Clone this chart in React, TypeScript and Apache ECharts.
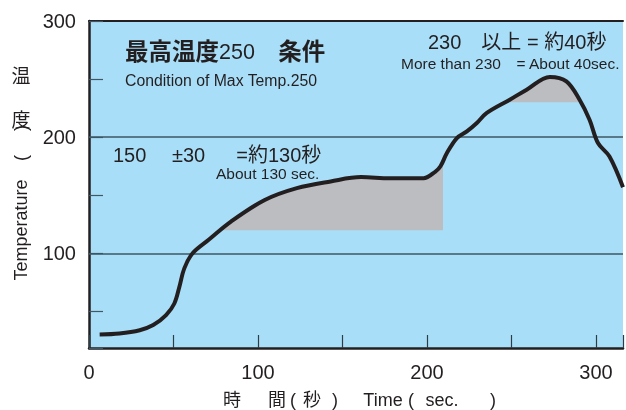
import React, { useEffect, useRef } from "react";
import * as echarts from "echarts";

// Temperature profile (time in sec, temperature in °C)
const curve: [number, number][] = [
  [6.3, 30.3], [18, 31.2], [30, 34], [38, 38.4], [45.6, 47], [50.5, 57],
  [53.5, 71.4], [56.4, 87.2], [61.3, 100.2], [71, 112], [84, 127.4],
  [104, 146], [123, 156.2], [143, 162], [161, 165.7], [178, 164.8],
  [198, 164.8], [205, 170.5], [208, 175], [211.8, 186.4], [217.7, 199.3],
  [223.6, 205], [229.5, 212.2], [235.4, 220.9], [249, 232.3], [259, 240.9],
  [272.7, 251.9], [282.5, 248.1], [290.3, 232.3], [296.2, 215.1],
  [301.2, 195], [308, 183.4], [316, 157],
];

// Zone 1: 150 ± 30 (above 120) from ~79 s to ~209 s
const zone1Base = 120;
const zone1Range = [79, 209.2];
// Zone 2: above 230 for about 40 s
const zone2Base = 230;
const zone2Range = [249, 289.6];

const gridValues = [100, 200];
const xTickLabels = [0, 100, 200, 300];
const yTickLabels = [100, 200, 300];

const FONT = "'Liberation Sans', Arial, 'Noto Sans CJK JP', sans-serif";
const INK = "#231f20";
const BLUE = "#a9def8";
const GRAY = "#bcbdc1";
const CLEAR = "rgba(0,0,0,0)";

export default function App() {
  const ref = useRef<HTMLDivElement>(null);
  useEffect(() => {
    if (!ref.current) return;
    const chart = echarts.init(ref.current, undefined, { renderer: "svg" });
    const txt = (text: string, x: number, y: number, size: number, extra: any = {}) => ({
      type: "text",
      x,
      y,
      rotation: extra.rotation || 0,
      z: 100,
      style: {
        text,
        x: 0,
        y: 0,
        fontSize: size,
        fontFamily: FONT,
        fontWeight: extra.bold ? "bold" : "normal",
        fill: INK,
        align: extra.align || "left",
        verticalAlign: "middle",
        rich: extra.rich,
      },
    });
    chart.setOption({
      animation: false,
      grid: {
        left: 89,
        right: 0,
        top: 21,
        bottom: 62,
        show: true,
        backgroundColor: BLUE,
        borderWidth: 0,
      },
      xAxis: [
        {
          type: "value",
          min: 0,
          max: 316,
          interval: 50,
          axisLine: { show: true, onZero: false, lineStyle: { color: INK, width: 2.5 } },
          axisTick: { show: true, inside: true, length: 13, lineStyle: { color: "#2e3d45", width: 1.2 } },
          splitLine: { show: false },
          axisLabel: {
            fontSize: 20,
            fontFamily: FONT,
            color: INK,
            margin: 14,
            formatter: (v: number) => (xTickLabels.includes(v) ? String(v) : ""),
          },
        },
        {
          type: "value",
          position: "top",
          min: 0,
          max: 316,
          axisLine: { show: true, onZero: false, lineStyle: { color: INK, width: 2 } },
          axisTick: { show: false },
          axisLabel: { show: false },
          splitLine: { show: false },
        },
      ],
      yAxis: {
        type: "value",
        min: 18.7,
        max: 300,
        axisLine: { show: true, onZero: false, lineStyle: { color: INK, width: 2.5 } },
        axisTick: { show: true, inside: true, length: 14, lineStyle: { color: "#3f5864", width: 1.2 } },
        splitLine: { show: false },
        axisLabel: {
          fontSize: 20,
          fontFamily: FONT,
          color: INK,
          margin: 13,
          formatter: (v: number) => (yTickLabels.includes(v) ? String(v) : ""),
        },
      },
      visualMap: [
        {
          type: "piecewise",
          show: false,
          dimension: 0,
          seriesIndex: 1,
          pieces: [
            { lt: zone1Range[0], color: CLEAR },
            { gte: zone1Range[0], lte: zone1Range[1], color: GRAY },
            { gt: zone1Range[1], color: CLEAR },
          ],
        },
        {
          type: "piecewise",
          show: false,
          dimension: 0,
          seriesIndex: 2,
          pieces: [
            { lt: zone2Range[0], color: CLEAR },
            { gte: zone2Range[0], lte: zone2Range[1], color: GRAY },
            { gt: zone2Range[1], color: CLEAR },
          ],
        },
      ],
      series: [
        {
          type: "line",
          data: curve,
          smooth: 0.35,
          showSymbol: false,
          z: 10,
          lineStyle: { color: INK, width: 4 },
          itemStyle: { color: INK },
        },
        {
          type: "line",
          data: curve,
          smooth: 0.35,
          showSymbol: false,
          z: 3,
          lineStyle: { width: 0, opacity: 0 },
          areaStyle: { origin: zone1Base, opacity: 1 },
        },
        {
          type: "line",
          data: curve,
          smooth: 0.35,
          showSymbol: false,
          z: 3,
          lineStyle: { width: 0, opacity: 0 },
          areaStyle: { origin: zone2Base, opacity: 1 },
        },
        {
          type: "line",
          data: [],
          z: 2,
          markLine: {
            silent: true,
            symbol: "none",
            label: { show: false },
            lineStyle: { color: "#3d5765", width: 1.5, type: "solid" },
            data: gridValues.map((v) => ({ yAxis: v })),
          },
        },
      ],
      graphic: [
        txt("{b|最高温度}{n|250}{b|　条件}", 125, 52, 23.5, {
          rich: {
            b: { fontSize: 23.5, fontWeight: "bold", fontFamily: FONT, fill: INK },
            n: { fontSize: 21.5, fontFamily: FONT, fill: INK },
          },
        }),
        txt("Condition of Max Temp.250", 125, 80, 15.8),
        txt("230　以上 = 約40秒", 428, 42, 20),
        txt("More than 230　= About 40sec.", 401, 63, 15.5),
        txt("150　 ±30　  =約130秒", 113, 155, 20),
        txt("About 130 sec.", 216, 173, 15.5),
        // y axis title
        txt("温", 21, 76, 19, { align: "center" }),
        txt("度", 21, 120, 19, { align: "center" }),
        txt("(", 21, 158, 18, { align: "center", rotation: Math.PI / 2 }),
        txt(")", 21, 128, 18, { align: "center", rotation: Math.PI / 2 }),
        txt("Temperature", 21, 230, 18, { align: "center", rotation: Math.PI / 2 }),
        // x axis title
        txt("時", 232, 400, 18, { align: "center" }),
        txt("間", 277, 400, 18, { align: "center" }),
        txt("(", 293, 400, 18, { align: "center" }),
        txt("秒", 312, 400, 18, { align: "center" }),
        txt(")", 335, 400, 18, { align: "center" }),
        txt("Time", 383, 400, 18, { align: "center" }),
        txt("(", 411, 400, 18, { align: "center" }),
        txt("sec.", 442, 400, 18, { align: "center" }),
        txt(")", 493, 400, 18, { align: "center" }),
      ],
    });
    return () => chart.dispose();
  }, []);
  return (
    <div
      ref={ref}
      style={{ position: "fixed", left: 0, top: 0, width: 626, height: 410 }}
    />
  );
}
